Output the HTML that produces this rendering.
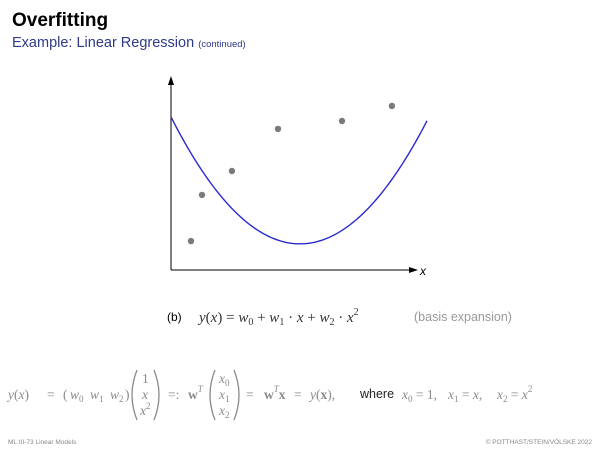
<!DOCTYPE html>
<html><head><meta charset="utf-8"><style>
html,body{margin:0;padding:0;background:#fff;}
svg{display:block}
.m{font-family:"Liberation Serif",serif;font-style:italic;fill:#333;}
.g{font-family:"Liberation Serif",serif;fill:#8a8a8a;}
.gi{font-family:"Liberation Serif",serif;font-style:italic;fill:#8a8a8a;}
</style></head><body>
<svg id="s" width="600" height="450" viewBox="0 0 600 450">
<text x="12" y="26" font-family="Liberation Sans, sans-serif" font-weight="bold" font-size="19" fill="#000">Overfitting</text>
<text x="12" y="47" font-family="Liberation Sans, sans-serif" font-size="14.5" fill="#2e3a8a">Example: Linear Regression <tspan font-size="9.5">(continued)</tspan></text>
<g id="chart">
<line x1="171" y1="270" x2="171" y2="82" stroke="#000" stroke-width="1"/>
<polygon points="171,76 168,85 174,85" fill="#000"/>
<line x1="171" y1="270" x2="412" y2="270" stroke="#000" stroke-width="1"/>
<polygon points="418,270 409,267 409,273" fill="#000"/>
<text x="420" y="275" font-family="Liberation Sans, sans-serif" font-style="italic" font-size="12" fill="#000">x</text>
<g id="marks"></g>
</g>
<text x="167" y="321" font-family="Liberation Sans, sans-serif" font-size="12" fill="#000">(b)</text>
<text x="199" y="322" class="m" font-size="15">y<tspan font-style="normal">(</tspan>x<tspan font-style="normal">) = </tspan>w<tspan font-size="10" dy="3" font-style="normal">0</tspan><tspan dy="-3" font-style="normal"> + </tspan>w<tspan font-size="10" dy="3" font-style="normal">1</tspan><tspan dy="-3" font-style="normal"> · </tspan>x<tspan font-style="normal"> + </tspan>w<tspan font-size="10" dy="3" font-style="normal">2</tspan><tspan dy="-3" font-style="normal"> · </tspan>x<tspan font-size="10" dy="-7" font-style="normal">2</tspan></text>
<text x="414" y="321" font-family="Liberation Sans, sans-serif" font-size="12.5" fill="#999">(basis expansion)</text>
<g font-size="13.5">
<text x="8" y="399" class="gi">y<tspan font-style="normal">(</tspan>x<tspan font-style="normal">)</tspan></text>
<text x="47" y="399" class="g">=</text>
<text x="63" y="399" class="g">(</text>
<text x="70" y="399" class="gi">w<tspan font-size="9" dy="3" font-style="normal">0</tspan></text>
<text x="90" y="399" class="gi">w<tspan font-size="9" dy="3" font-style="normal">1</tspan></text>
<text x="110" y="399" class="gi">w<tspan font-size="9" dy="3" font-style="normal">2</tspan></text>
<text x="125" y="399" class="g">)</text>
<path d="M137,370 Q127,395 137,420" fill="none" stroke="#8a8a8a" stroke-width="1.3"/>
<text x="142" y="383" class="g">1</text>
<text x="142" y="399" class="gi">x</text>
<text x="140" y="415" class="gi">x<tspan font-size="9" dy="-6" font-style="normal">2</tspan></text>
<path d="M154,370 Q164,395 154,420" fill="none" stroke="#8a8a8a" stroke-width="1.3"/>
<text x="168" y="399" class="g">=:</text>
<text x="188" y="399" class="g" font-weight="bold">w<tspan font-size="9" dy="-7" font-weight="normal" font-style="italic">T</tspan></text>
<path d="M215,370 Q205,395 215,420" fill="none" stroke="#8a8a8a" stroke-width="1.3"/>
<text x="219" y="383" class="gi">x<tspan font-size="9" dy="3" font-style="normal">0</tspan></text>
<text x="219" y="399" class="gi">x<tspan font-size="9" dy="3" font-style="normal">1</tspan></text>
<text x="219" y="415" class="gi">x<tspan font-size="9" dy="3" font-style="normal">2</tspan></text>
<path d="M234,370 Q244,395 234,420" fill="none" stroke="#8a8a8a" stroke-width="1.3"/>
<text x="246" y="399" class="g">=</text>
<text x="264" y="399" class="g" font-weight="bold">w<tspan font-size="9" dy="-7" font-weight="normal" font-style="italic">T</tspan><tspan dy="7">x</tspan></text>
<text x="294" y="399" class="g">=</text>
<text x="310" y="399" class="g"><tspan font-style="italic">y</tspan>(<tspan font-weight="bold">x</tspan>),</text>
<text x="360" y="398" font-family="Liberation Sans, sans-serif" font-size="12.5" fill="#222">where</text>
<text x="402" y="399" class="gi">x<tspan font-size="9" dy="3" font-style="normal">0</tspan><tspan dy="-3" font-style="normal"> = 1,</tspan></text>
<text x="448" y="399" class="gi">x<tspan font-size="9" dy="3" font-style="normal">1</tspan><tspan dy="-3" font-style="normal"> = </tspan>x<tspan font-style="normal">,</tspan></text>
<text x="497" y="399" class="gi">x<tspan font-size="9" dy="3" font-style="normal">2</tspan><tspan dy="-3" font-style="normal"> = </tspan>x<tspan font-size="9" dy="-7" font-style="normal">2</tspan></text>
</g>
<text x="8" y="444" font-family="Liberation Sans, sans-serif" font-size="6.5" fill="#888">ML:III-73    Linear Models</text>
<text x="592" y="444" text-anchor="end" font-family="Liberation Sans, sans-serif" font-size="6.5" fill="#888">© POTTHAST/STEIN/VÖLSKE 2022</text>
</svg>
<script>
const pointX = [0.78, 1.21, 2.38, 4.18, 6.68, 8.63];
const pointY = [1.5, 3.89, 5.13, 7.31, 7.72, 8.5];
const weights = [7.93, -2.61, 0.259];
const xDomain = [0, 10];
const yDomain = [0, 10];

const sx = v => 171 + (v - xDomain[0]) / (xDomain[1] - xDomain[0]) * 256;
const sy = v => 270 - (v - yDomain[0]) / (yDomain[1] - yDomain[0]) * 193;
const NS = 'http://www.w3.org/2000/svg';
const g = document.getElementById('marks');

let d = '';
for (let i = 0; i <= 100; i++) {
  const x = xDomain[0] + (xDomain[1] - xDomain[0]) * i / 100;
  const y = weights[0] + weights[1] * x + weights[2] * x * x;
  d += (i ? 'L' : 'M') + sx(x).toFixed(2) + ',' + sy(y).toFixed(2);
}
const path = document.createElementNS(NS, 'path');
path.setAttribute('d', d);
path.setAttribute('fill', 'none');
path.setAttribute('stroke', '#2a2ad0');
path.setAttribute('stroke-width', '1.4');


g.appendChild(path);

pointX.forEach((x, i) => {
  const c = document.createElementNS(NS, 'circle');
  c.setAttribute('cx', sx(x));
  c.setAttribute('cy', sy(pointY[i]));
  c.setAttribute('r', '3.2');
  c.setAttribute('fill', '#7a7a7a');
  
  
  g.appendChild(c);
});
</script>
</body></html>
